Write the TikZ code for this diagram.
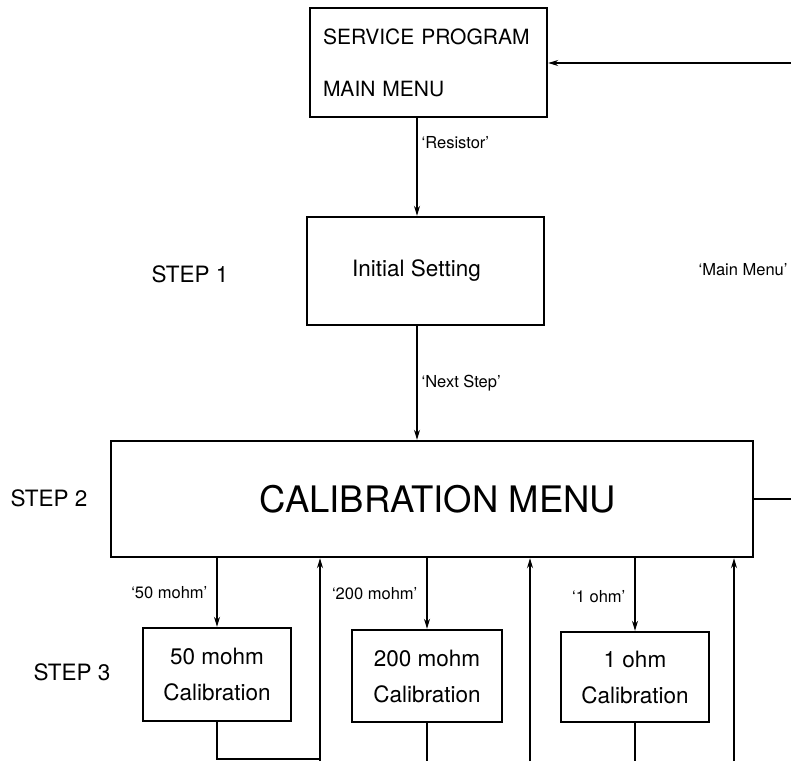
\documentclass[tikz,border=0pt]{standalone}
\usepackage{fontspec}
\setmainfont{TeX Gyre Heros}
\usetikzlibrary{arrows.meta}

\begin{document}
\begin{tikzpicture}[x=1pt,y=1pt,
	box/.style={draw,line width=2.4pt,inner sep=0pt,align=center,font=\fontsize{22.5}{36}\selectfont},
	arr/.style={-{Stealth[length=10pt,width=6pt]},line width=1.3pt},
	lin/.style={line width=1.3pt},
	lbl/.style={font=\fontsize{16.5}{18}\selectfont,inner sep=0pt},
	steplbl/.style={font=\fontsize{22.5}{24}\selectfont,inner sep=0pt}]
	\useasboundingbox (0,0) rectangle (791,-761);

	\node[box,minimum width=237pt,minimum height=109pt,text width=211pt,align=left,font=\fontsize{21}{52}\selectfont] (menu) at (428.5,-62.5) {SERVICE PROGRAM\\MAIN MENU};
	\node[box,minimum width=237pt,minimum height=108pt] (init) at (425.5,-271) {\hspace*{-18pt}Initial Setting};
	\node[box,minimum width=642pt,minimum height=116pt,font=\fontsize{36.5}{40}\selectfont] (cal) at (432,-499) {\hspace*{12pt}CALIBRATION MENU};
	\node[box,minimum width=148pt,minimum height=93pt] (b1) at (217,-674.5) {50 mohm\\Calibration};
	\node[box,minimum width=150pt,minimum height=92pt] (b2) at (427,-676) {200 mohm\\Calibration};
	\node[box,minimum width=148pt,minimum height=90pt] (b3) at (635,-677) {1 ohm\\Calibration};

	\node[steplbl] (s1) at (190,-274) {STEP 1};
	\node[steplbl] (s2) at (49,-498) {STEP 2};
	\node[steplbl] (s3) at (72,-672) {STEP 3};
	\node[lbl] (mm) at (743,-270) {`Main Menu'};

	\draw[arr] ([xshift=-11.5pt]menu.south) -- ([xshift=-11.5pt]menu.south |- init.north) node[lbl,pos=0.25,right=4pt]{`Resistor'};
	\draw[arr] ([xshift=-8.5pt]init.south) -- ([xshift=-8.5pt]init.south |- cal.north) node[lbl,midway,right=4pt]{`Next Step'};

	\draw[arr] (cal.south -| b1.north) -- (b1.north) node[lbl,midway,left=9pt]{`50 mohm'};
	\draw[arr] (cal.south -| b2.north) -- (b2.north) node[lbl,midway,left=9pt]{`200 mohm'};
	\draw[arr] (cal.south -| b3.north) -- (b3.north) node[lbl,pos=0.53,left=9pt]{`1 ohm'};

	\coordinate (u1) at (320,-761);
	\coordinate (u2) at (530,-761);
	\coordinate (u3) at (734,-761);
	\draw[arr] (u1) -- (u1 |- cal.south);
	\draw[arr] (u2) -- (u2 |- cal.south);
	\draw[arr] (u3) -- (u3 |- cal.south);
	\draw[lin] (b1.south) |- ([yshift=2pt]u1);
	\draw[lin] (b2.south) -- (b2.south |- u1);
	\draw[lin] (b3.south) -- (b3.south |- u1);

	\coordinate (e1) at (791,-63);
	\coordinate (e2) at (791,-499);
	\draw[arr] (e1) -- (e1 -| menu.east);
	\draw[lin] (cal.east) -- (e2);
\end{tikzpicture}
\end{document}
